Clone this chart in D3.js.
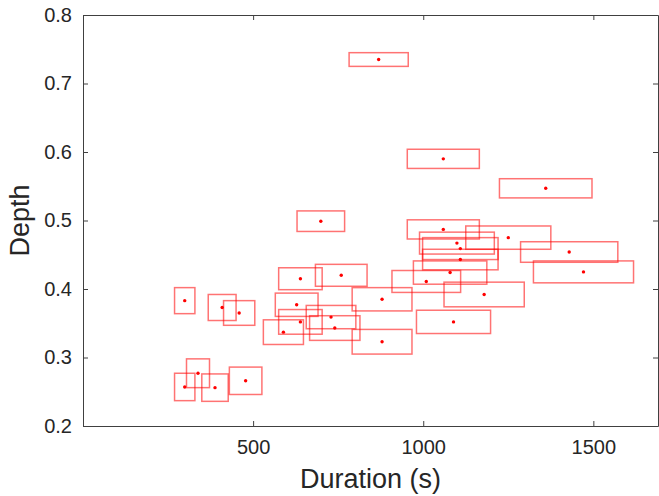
<!DOCTYPE html>
<html>
<head>
<meta charset="utf-8">
<script src="https://cdn.jsdelivr.net/npm/d3@7/dist/d3.min.js"></script>
<style>
  body { margin: 0; background: #fff; }
  svg { display: block; font-family: "Liberation Sans", Arial, sans-serif; }
</style>
</head>
<body>
<svg width="659" height="496"></svg>
<script>
// durations (s), depths and depth half-ranges
const duration = [869, 1059, 1360, 699, 1059, 1250, 1099, 1109, 1429, 1109,
                  1471, 1079, 759, 639, 1009, 1179, 879, 299, 628, 409,
                  459, 729, 1089, 639, 740, 589, 879, 338, 478, 299, 388];
const depth = [0.735, 0.590, 0.547, 0.499, 0.487, 0.475, 0.467, 0.459, 0.454, 0.443,
               0.425, 0.424, 0.420, 0.415, 0.411, 0.392, 0.385, 0.383, 0.377, 0.373,
               0.365, 0.359, 0.352, 0.352, 0.343, 0.337, 0.323, 0.277, 0.266, 0.257, 0.256];
const depthErr = [0.010, 0.014, 0.014, 0.015, 0.014, 0.017, 0.016, 0.016, 0.015, 0.015,
                  0.016, 0.017, 0.016, 0.016, 0.016, 0.018, 0.017, 0.019, 0.017, 0.019,
                  0.018, 0.017, 0.017, 0.018, 0.018, 0.018, 0.018, 0.021, 0.020, 0.020, 0.020];
const durationErrFrac = 0.1; // boxes span +-10% of duration
const xTicks = [500, 1000, 1500];
const yTicks = [0.2, 0.3, 0.4, 0.5, 0.6, 0.7, 0.8];

const svg = d3.select("svg");
const area = { left: 83, right: 658, top: 15, bottom: 426 };
const axisColor = "#404040";
const textColor = "#262626";

const scX = d3.scaleLinear().domain([0, 1690]).range([area.left, area.right]);
const scY = d3.scaleLinear().domain([0.2, 0.8]).range([area.bottom, area.top]);

const data = duration.map((d, i) => ({ x: d, y: depth[i], dy: depthErr[i] }));

// boxes
svg.append("g")
    .selectAll("rect")
    .data(data)
    .enter()
    .append("rect")
    .attr("x", d => scX(d.x * (1 - durationErrFrac)))
    .attr("y", d => scY(d.y + d.dy))
    .attr("width", d => scX(d.x * (1 + durationErrFrac)) - scX(d.x * (1 - durationErrFrac)))
    .attr("height", d => scY(d.y - d.dy) - scY(d.y + d.dy))
    .style("fill", "none")
    .style("stroke", "red")
    .style("stroke-opacity", 0.55)
    .style("stroke-width", 1.5);

// centre dots
svg.append("g")
    .selectAll("circle")
    .data(data)
    .enter()
    .append("circle")
    .attr("cx", d => scX(d.x))
    .attr("cy", d => scY(d.y))
    .attr("r", 1.7)
    .style("fill", "red");

// axes (ticks pointing inward, box on)
const axB = svg.append("g")
    .attr("transform", `translate(0, ${area.bottom})`)
    .call(d3.axisBottom(scX).tickValues(xTicks).tickSizeInner(-5).tickSizeOuter(0).tickPadding(14).tickFormat(d3.format("d")));
const axT = svg.append("g")
    .attr("transform", `translate(0, ${area.top})`)
    .call(d3.axisTop(scX).tickValues(xTicks).tickSizeInner(-5).tickSizeOuter(0).tickFormat(""));
const axL = svg.append("g")
    .attr("transform", `translate(${area.left}, 0)`)
    .call(d3.axisLeft(scY).tickValues(yTicks).tickSizeInner(-5).tickSizeOuter(0).tickPadding(11).tickFormat(d3.format(".1f")));
const axR = svg.append("g")
    .attr("transform", `translate(${area.right}, 0)`)
    .call(d3.axisRight(scY).tickValues(yTicks).tickSizeInner(-5).tickSizeOuter(0).tickFormat(""));

[axB, axT, axL, axR].forEach(ax => {
    ax.selectAll("path, line").attr("stroke", axisColor);
    ax.selectAll("text")
        .attr("fill", textColor)
        .style("font-size", "20px")
        .style("font-family", "'Liberation Sans', Arial, sans-serif");
});

// axis labels
svg.append("text")
    .attr("x", (area.left + area.right) / 2)
    .attr("y", 488)
    .attr("text-anchor", "middle")
    .attr("fill", textColor)
    .style("font-size", "27px")
    .text("Duration (s)");

svg.append("text")
    .attr("transform", `translate(29, ${(area.top + area.bottom) / 2}) rotate(-90)`)
    .attr("text-anchor", "middle")
    .attr("fill", textColor)
    .style("font-size", "27px")
    .text("Depth");
</script>
</body>
</html>
